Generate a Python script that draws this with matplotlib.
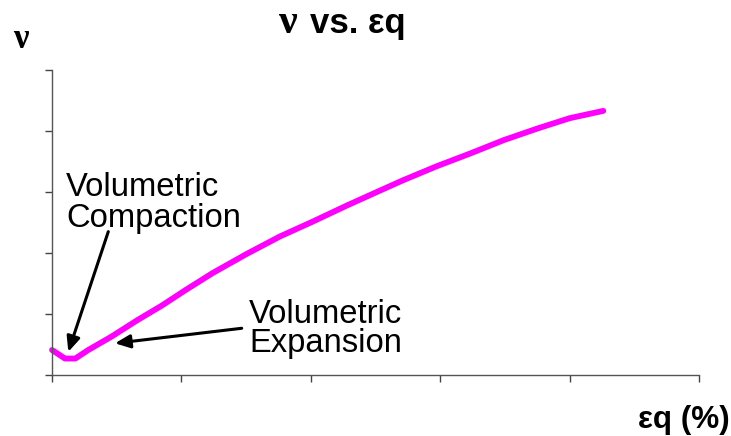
import matplotlib
matplotlib.use("Agg")
import matplotlib.pyplot as plt

# Data (axis units: 5 intervals on each axis, no tick labels)
eq = [0.00, 0.10, 0.18, 0.28, 0.46, 0.66, 0.85, 1.03, 1.24, 1.50, 1.76, 2.02,
      2.28, 2.51, 2.71, 2.97, 3.23, 3.49, 3.75, 4.00, 4.26]
nu = [0.41, 0.27, 0.27, 0.41, 0.63, 0.90, 1.14, 1.39, 1.67, 1.98, 2.27, 2.52,
      2.78, 3.00, 3.19, 3.42, 3.63, 3.85, 4.04, 4.21, 4.33]
x_ticks = [0, 1, 2, 3, 4, 5]
y_ticks = [0, 1, 2, 3, 4, 5]

W, H = 731, 436
fig = plt.figure(figsize=(W / 100, H / 100), dpi=100)
ax = fig.add_axes([52 / W, 1 - 375 / H, (699 - 52) / W, (375 - 70) / H])

ax.plot(eq, nu, color="#FF00FF", lw=4.2, solid_capstyle="round",
        solid_joinstyle="round", clip_on=False)
ax.set_xlim(0, 5)
ax.set_ylim(0, 5)
ax.set_xticks(x_ticks)
ax.set_yticks(y_ticks)
ax.set_xticklabels([])
ax.set_yticklabels([])
ax.tick_params(axis="both", direction="out", length=5, width=1, color="#444444")
for s in ["top", "right"]:
    ax.spines[s].set_visible(False)
for s in ["left", "bottom"]:
    ax.spines[s].set_color("#555555")
    ax.spines[s].set_linewidth(1)

def fx(px):
    return px / W

def fy(py):
    return 1 - py / H

sans = "Liberation Sans"
serif = "Liberation Serif"

# Title
fig.text(fx(279), fy(33), "ν", family=serif, weight="bold", size=30, va="baseline", ha="left")
fig.text(fx(310), fy(33), "vs. εq", family=sans, weight="bold", size=25, va="baseline", ha="left")
# Y label
fig.text(fx(13), fy(48), "ν", family=serif, weight="bold", size=25, va="baseline", ha="left")
# X label
fig.text(fx(638), fy(428), "εq (%)", family=sans, weight="bold", size=22.7, va="baseline", ha="left")

# Annotations
fs = 23.6
fig.text(fx(66), fy(196), "Volumetric", family=sans, size=fs, va="baseline", ha="left")
fig.text(fx(66), fy(227), "Compaction", family=sans, size=fs, va="baseline", ha="left")
fig.text(fx(249), fy(323), "Volumetric", family=sans, size=fs, va="baseline", ha="left")
fig.text(fx(249), fy(352), "Expansion", family=sans, size=fs, va="baseline", ha="left")

arrow = dict(arrowstyle="-|>,head_length=0.9,head_width=0.4", lw=2.2, color="black",
             shrinkA=0, shrinkB=0)
ax.annotate("", xy=(0.126, 0.38), xytext=(0.435, 2.35), xycoords="data",
            arrowprops=arrow, annotation_clip=False)
ax.annotate("", xy=(0.487, 0.52), xytext=(1.466, 0.766), xycoords="data",
            arrowprops=arrow, annotation_clip=False)

fig.savefig("out.png", dpi=100)
